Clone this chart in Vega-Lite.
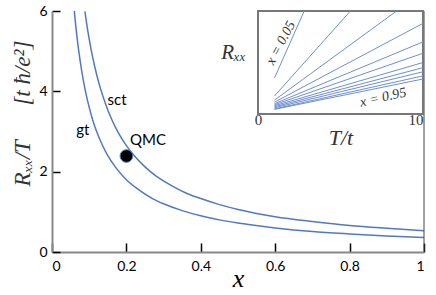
{
  "$schema": "https://vega.github.io/schema/vega-lite/v6.json",
  "width": 372,
  "height": 241,
  "autosize": {"type": "none"},
  "padding": {"left": 52, "top": 11, "right": 12, "bottom": 43},
  "background": "white",
  "config": {"view": {"stroke": null}},
  "datasets": {
    "curves": [
      {"curve": "gt", "x": 0.06, "y": 6.0}, {"curve": "gt", "x": 0.063, "y": 5.71}, {"curve": "gt", "x": 0.067, "y": 5.37},
      {"curve": "gt", "x": 0.072, "y": 5.0}, {"curve": "gt", "x": 0.08, "y": 4.5}, {"curve": "gt", "x": 0.09, "y": 4.0},
      {"curve": "gt", "x": 0.1, "y": 3.6}, {"curve": "gt", "x": 0.11, "y": 3.27}, {"curve": "gt", "x": 0.12, "y": 3.0},
      {"curve": "gt", "x": 0.135, "y": 2.67}, {"curve": "gt", "x": 0.15, "y": 2.4}, {"curve": "gt", "x": 0.17, "y": 2.12},
      {"curve": "gt", "x": 0.2, "y": 1.8}, {"curve": "gt", "x": 0.23, "y": 1.57}, {"curve": "gt", "x": 0.27, "y": 1.33},
      {"curve": "gt", "x": 0.3, "y": 1.2}, {"curve": "gt", "x": 0.35, "y": 1.03}, {"curve": "gt", "x": 0.4, "y": 0.9},
      {"curve": "gt", "x": 0.45, "y": 0.8}, {"curve": "gt", "x": 0.5, "y": 0.72}, {"curve": "gt", "x": 0.6, "y": 0.6},
      {"curve": "gt", "x": 0.7, "y": 0.51}, {"curve": "gt", "x": 0.8, "y": 0.45}, {"curve": "gt", "x": 0.9, "y": 0.4},
      {"curve": "gt", "x": 1.0, "y": 0.36},
      {"curve": "sct", "x": 0.0885, "y": 5.99}, {"curve": "sct", "x": 0.092, "y": 5.76}, {"curve": "sct", "x": 0.096, "y": 5.52},
      {"curve": "sct", "x": 0.1, "y": 5.3}, {"curve": "sct", "x": 0.11, "y": 4.82}, {"curve": "sct", "x": 0.12, "y": 4.42},
      {"curve": "sct", "x": 0.13, "y": 4.08}, {"curve": "sct", "x": 0.145, "y": 3.66}, {"curve": "sct", "x": 0.16, "y": 3.31},
      {"curve": "sct", "x": 0.18, "y": 2.94}, {"curve": "sct", "x": 0.2, "y": 2.65}, {"curve": "sct", "x": 0.22, "y": 2.41},
      {"curve": "sct", "x": 0.25, "y": 2.12}, {"curve": "sct", "x": 0.28, "y": 1.89}, {"curve": "sct", "x": 0.32, "y": 1.66},
      {"curve": "sct", "x": 0.36, "y": 1.47}, {"curve": "sct", "x": 0.4, "y": 1.33}, {"curve": "sct", "x": 0.45, "y": 1.18},
      {"curve": "sct", "x": 0.5, "y": 1.06}, {"curve": "sct", "x": 0.6, "y": 0.88}, {"curve": "sct", "x": 0.7, "y": 0.76},
      {"curve": "sct", "x": 0.8, "y": 0.66}, {"curve": "sct", "x": 0.9, "y": 0.59}, {"curve": "sct", "x": 1.0, "y": 0.53}
    ],
    "qmc": [{"x": 0.2, "y": 2.39}],
    "labels": [
      {"text": "gt", "x": 0.083, "y": 3.03},
      {"text": "sct", "x": 0.175, "y": 3.78},
      {"text": "QMC", "x": 0.258, "y": 2.79}
    ],
    "inset": [
      {"k": 1, "T": 1, "R": 0.35}, {"k": 1, "T": 2.8, "R": 1.0},
      {"k": 2, "T": 1, "R": 0.175}, {"k": 2, "T": 5.6, "R": 1.0},
      {"k": 3, "T": 1, "R": 0.135}, {"k": 3, "T": 8.4, "R": 1.0},
      {"k": 4, "T": 1, "R": 0.115}, {"k": 4, "T": 10, "R": 0.88},
      {"k": 5, "T": 1, "R": 0.1}, {"k": 5, "T": 10, "R": 0.7},
      {"k": 6, "T": 1, "R": 0.09}, {"k": 6, "T": 10, "R": 0.59},
      {"k": 7, "T": 1, "R": 0.08}, {"k": 7, "T": 10, "R": 0.5},
      {"k": 8, "T": 1, "R": 0.07}, {"k": 8, "T": 10, "R": 0.45},
      {"k": 9, "T": 1, "R": 0.06}, {"k": 9, "T": 10, "R": 0.41},
      {"k": 10, "T": 1, "R": 0.05}, {"k": 10, "T": 10, "R": 0.37},
      {"k": 11, "T": 1, "R": 0.045}, {"k": 11, "T": 10, "R": 0.34}
    ],
    "insetLabels": [
      {"text": "x = 0.05", "T": 1.39, "R": 0.69, "angle": 298},
      {"text": "x = 0.95", "T": 7.58, "R": 0.16, "angle": 347}
    ]
  },
  "layer": [
    {
      "layer": [
        {
          "data": {"name": "curves"},
          "mark": {"type": "line", "interpolate": "monotone", "color": "#5279bf", "strokeWidth": 1.5},
          "encoding": {
            "x": {
              "field": "x", "type": "quantitative",
              "scale": {"domain": [0, 1], "nice": false},
              "axis": {
                "values": [0, 0.2, 0.4, 0.6, 0.8, 1], "format": "~g", "grid": false,
                "title": "x", "titleFont": "Liberation Serif", "titleFontStyle": "italic", "titleFontWeight": "normal",
                "titleFontSize": 26, "titleColor": "#000", "titlePadding": -8,
                "labelFont": "Lato", "labelFontSize": 14, "labelColor": "#000", "labelPadding": 16,
                "tickSize": -9, "tickColor": "#000", "tickWidth": 1.5,
                "domainColor": "#888", "domainWidth": 2
              }
            },
            "y": {
              "field": "y", "type": "quantitative",
              "scale": {"domain": [0, 6], "nice": false},
              "axis": {
                "values": [0, 2, 4, 6], "grid": false,
                "title": "Rₓₓ/T\u2003\u2002[t ħ/e²]", "titleFont": "Liberation Serif", "titleFontStyle": "italic",
                "titleFontWeight": "normal", "titleFontSize": 23, "titleColor": "#333",
                "titleX": -30, "titleY": 102, "titleBaseline": "middle", "titleAlign": "center", "titleAngle": -90,
                "labelFont": "Lato", "labelFontSize": 14, "labelColor": "#000", "labelPadding": 13,
                "tickSize": -8, "tickColor": "#000", "tickWidth": 1.5,
                "domainColor": "#888", "domainWidth": 2
              }
            },
            "detail": {"field": "curve"}
          }
        },
        {
          "data": {"values": [{}]},
          "mark": {"type": "rule", "color": "#444", "strokeWidth": 1},
          "encoding": {"x": {"datum": 1, "type": "quantitative"}}
        },
        {
          "data": {"name": "qmc"},
          "mark": {"type": "point", "filled": true, "color": "#000", "size": 160, "stroke": "#4f77bd", "strokeWidth": 1, "opacity": 1},
          "encoding": {
            "x": {"field": "x", "type": "quantitative"},
            "y": {"field": "y", "type": "quantitative"}
          }
        },
        {
          "data": {"name": "labels"},
          "mark": {"type": "text", "font": "Lato", "fontSize": 15, "color": "#000", "align": "center", "baseline": "middle"},
          "encoding": {
            "x": {"field": "x", "type": "quantitative"},
            "y": {"field": "y", "type": "quantitative"},
            "text": {"field": "text"}
          }
        }
      ]
    },
    {
      "layer": [
        {
          "data": {"values": [{}]},
          "mark": {"type": "rect", "fill": "white", "stroke": "#777", "strokeWidth": 2},
          "encoding": {
            "x": {
              "datum": 0, "type": "quantitative",
              "scale": {"domain": [0, 10], "range": [206, 371], "nice": false},
              "axis": {
                "orient": "bottom", "offset": -138, "tickCount": 10, "grid": false,
                "labelExpr": "datum.value == 0 || datum.value == 10 ? datum.label : ''",
                "labelAlign": {"condition": {"test": "datum.value == 10", "value": "right"}, "value": "center"},
                "labelFont": "Liberation Serif", "labelFontSize": 15, "labelColor": "#333", "labelPadding": 1,
                "tickSize": -3, "tickColor": "#999", "domain": false,
                "title": "T/t", "titleFont": "Liberation Serif", "titleFontStyle": "italic", "titleFontWeight": "normal",
                "titleFontSize": 22, "titleColor": "#333", "titlePadding": 0
              }
            },
            "x2": {"datum": 10},
            "y": {
              "datum": 0, "type": "quantitative",
              "scale": {"domain": [0, 1], "range": [103, 0], "nice": false},
              "axis": {
                "orient": "left", "offset": -206, "grid": false, "labels": false, "ticks": false, "domain": false,
                "title": "Rₓₓ", "titleFont": "Liberation Serif", "titleFontStyle": "italic", "titleFontWeight": "normal",
                "titleFontSize": 21, "titleColor": "#333", "titleAngle": 0,
                "titleX": -25, "titleY": 41, "titleAlign": "center", "titleBaseline": "middle"
              }
            },
            "y2": {"datum": 1}
          }
        },
        {
          "data": {"name": "inset"},
          "mark": {"type": "line", "color": "#6f8fcf", "strokeWidth": 1},
          "encoding": {
            "x": {"field": "T", "type": "quantitative"},
            "y": {"field": "R", "type": "quantitative"},
            "detail": {"field": "k"}
          }
        },
        {
          "data": {"name": "insetLabels"},
          "mark": {"type": "text", "font": "Liberation Serif", "fontStyle": "italic", "fontSize": 14, "color": "#333", "align": "center", "baseline": "middle"},
          "encoding": {
            "x": {"field": "T", "type": "quantitative"},
            "y": {"field": "R", "type": "quantitative"},
            "text": {"field": "text"},
            "angle": {"field": "angle", "type": "quantitative", "scale": null}
          }
        }
      ]
    }
  ],
  "resolve": {"scale": {"x": "independent", "y": "independent"}}
}
